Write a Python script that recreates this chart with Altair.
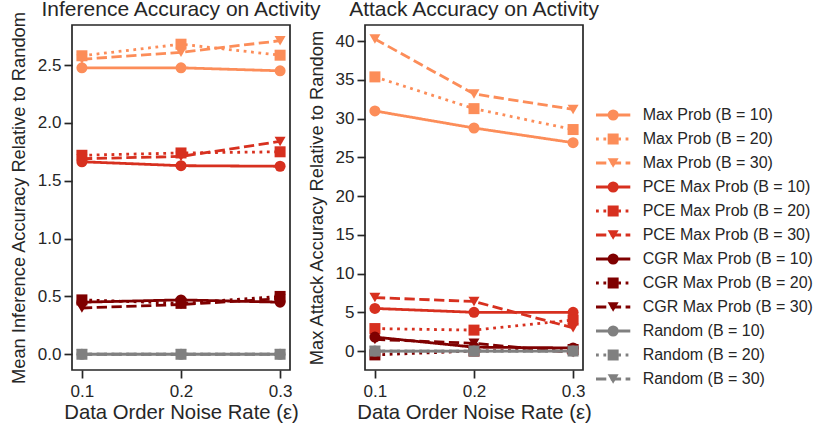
import altair as alt
import pandas as pd

# Data order noise rates on the x axis
x_noise = [0.1, 0.2, 0.3]
batch_sizes = [10, 20, 30]
methods = ["Max Prob", "PCE Max Prob", "CGR Max Prob", "Random"]
method_colors = ["#fc8d59", "#d7301f", "#7f0000", "#808080"]

# Mean inference accuracy relative to random (rows: B = 10, 20, 30)
inference_max_prob = [[2.476, 2.476, 2.45], [2.58, 2.68, 2.585], [2.55, 2.61, 2.71]]
inference_pce = [[1.664, 1.63, 1.625], [1.72, 1.74, 1.75], [1.69, 1.71, 1.84]]
inference_cgr = [[0.45, 0.47, 0.45], [0.47, 0.44, 0.50], [0.40, 0.43, 0.48]]
inference_random = [[0.0, 0.0, 0.0], [0.0, 0.0, 0.0], [0.0, 0.0, 0.0]]

# Max attack accuracy relative to random (rows: B = 10, 20, 30)
attack_max_prob = [[31.0, 28.8, 26.9], [35.4, 31.3, 28.6], [40.3, 33.2, 31.2]]
attack_pce = [[5.5, 5.0, 5.0], [2.9, 2.7, 4.0], [6.9, 6.4, 3.0]]
attack_cgr = [[1.8, 0.5, 0.4], [-0.5, 0.0, 0.2], [1.5, 1.0, -0.2]]
attack_random = [[0.0, 0.0, 0.0], [0.0, 0.0, 0.0], [0.0, 0.0, 0.0]]

batch_shapes = ["circle", "square", "triangle-down"]
batch_dashes = [[1, 0], [2.8, 4.6], [10.3, 4.5]]

panels = {
    "inference": [inference_max_prob, inference_pce, inference_cgr, inference_random],
    "attack": [attack_max_prob, attack_pce, attack_cgr, attack_random],
}

series_order, series_colors, series_shapes, series_dashes = [], [], [], []
for mi, m in enumerate(methods):
    for bi, b in enumerate(batch_sizes):
        series_order.append(f"{m} (B = {b})")
        series_colors.append(method_colors[mi])
        series_shapes.append(batch_shapes[bi])
        series_dashes.append(batch_dashes[bi])

rows = []
for panel_name, tables in panels.items():
    for mi, m in enumerate(methods):
        for bi, b in enumerate(batch_sizes):
            for xi, xv in enumerate(x_noise):
                rows.append({
                    "panel": panel_name,
                    "series": f"{m} (B = {b})",
                    "noise": xv,
                    "value": tables[mi][bi][xi],
                })
df = pd.DataFrame(rows)

ink = "#262626"
font = "Liberation Sans"
line_w = 2.8
marker_size = 121
plot_w, plot_h = 218, 345

color_enc = alt.Color("series:N", scale=alt.Scale(domain=series_order, range=series_colors), legend=None)
shape_enc = alt.Shape("series:N", scale=alt.Scale(domain=series_order, range=series_shapes), legend=None)
dash_enc = alt.StrokeDash("series:N", scale=alt.Scale(domain=series_order, range=series_dashes), legend=None)


def data_layers(name, y_title, y_domain, y_ticks, y_format):
    base = alt.Chart(df).transform_filter(alt.datum.panel == name).encode(
        x=alt.X("noise:Q",
                scale=alt.Scale(domain=[0.09, 0.31], nice=False, zero=False),
                axis=alt.Axis(values=x_noise, format=".1f", title="Data Order Noise Rate (ε)")),
        y=alt.Y("value:Q",
                scale=alt.Scale(domain=y_domain, nice=False, zero=False),
                axis=alt.Axis(values=y_ticks, format=y_format, title=y_title)),
        color=color_enc,
    )
    layers = []
    for s in series_order:
        sub = base.transform_filter(alt.datum.series == s)
        layers.append(sub.mark_line(strokeWidth=line_w, strokeCap="butt").encode(strokeDash=dash_enc))
        layers.append(sub.mark_point(filled=True, size=marker_size, opacity=1).encode(shape=shape_enc))
    return alt.layer(*layers)


def title_params(text, dy):
    return alt.TitleParams(text, fontSize=21, font=font, fontWeight="normal",
                           color=ink, offset=5, dy=dy)


left = data_layers("inference", "Mean Inference Accuracy Relative to Random",
                   [-0.136, 2.846], [0.0, 0.5, 1.0, 1.5, 2.0, 2.5], ".1f").properties(
    width=plot_w, height=plot_h,
    title=title_params("Inference Accuracy on Activity", 14),
)

right_data = data_layers("attack", "Max Attack Accuracy Relative to Random",
                         [-2.45, 42.1], [0, 5, 10, 15, 20, 25, 30, 35, 40], "d")

# Legend rows drawn beside the right panel: handle line, marker and label per series
legend_df = pd.DataFrame({
    "series": series_order,
    "row": list(range(len(series_order))),
    "start": [0.0] * len(series_order),
    "end": [1.0] * len(series_order),
    "mid": [0.5] * len(series_order),
    "text_x": [1.36] * len(series_order),
})
lx = alt.Scale(domain=[-6.735, -0.379], nice=False, zero=False)
ly = alt.Scale(domain=[-3.75, 10.625], nice=False, zero=False, reverse=True)
leg_base = alt.Chart(legend_df)
leg_rule = leg_base.mark_rule(strokeWidth=line_w, strokeCap="butt", clip=False).encode(
    x=alt.X("start:Q", scale=lx, axis=None),
    x2="end:Q",
    y=alt.Y("row:Q", scale=ly, axis=None),
    color=color_enc,
    strokeDash=dash_enc,
)
leg_point = leg_base.mark_point(filled=True, size=marker_size, opacity=1, clip=False).encode(
    x=alt.X("mid:Q", scale=lx, axis=None),
    y=alt.Y("row:Q", scale=ly, axis=None),
    color=color_enc,
    shape=shape_enc,
)
leg_text = leg_base.mark_text(align="left", baseline="middle", fontSize=16, font=font,
                              color=ink, clip=False).encode(
    x=alt.X("text_x:Q", scale=lx, axis=None),
    y=alt.Y("row:Q", scale=ly, axis=None),
    text="series:N",
)
legend_layers = alt.layer(leg_rule, leg_point, leg_text)

right = alt.layer(right_data, legend_layers).resolve_scale(
    x="independent", y="independent",
).properties(
    width=plot_w, height=plot_h,
    title=title_params("Attack Accuracy on Activity", 0),
)

chart = alt.hconcat(left, right, spacing=75, bounds="flush").properties(
    padding={"left": 8, "top": -2, "right": 0, "bottom": 0},
).configure_view(
    stroke=ink, strokeWidth=1.7,
).configure_axis(
    grid=False, domain=False,
    tickColor=ink, tickWidth=1.7, tickSize=8,
    labelFont=font, labelFontSize=17, labelColor=ink,
    titleFont=font, titleColor=ink, titleFontWeight="normal",
).configure_axisX(
    titleFontSize=20.3, labelPadding=5.5, titlePadding=3,
).configure_axisY(
    titleFontSize=18.3, labelPadding=3, titlePadding=9,
)

chart.save("out.html", embed_options={"renderer": "svg", "actions": False})
